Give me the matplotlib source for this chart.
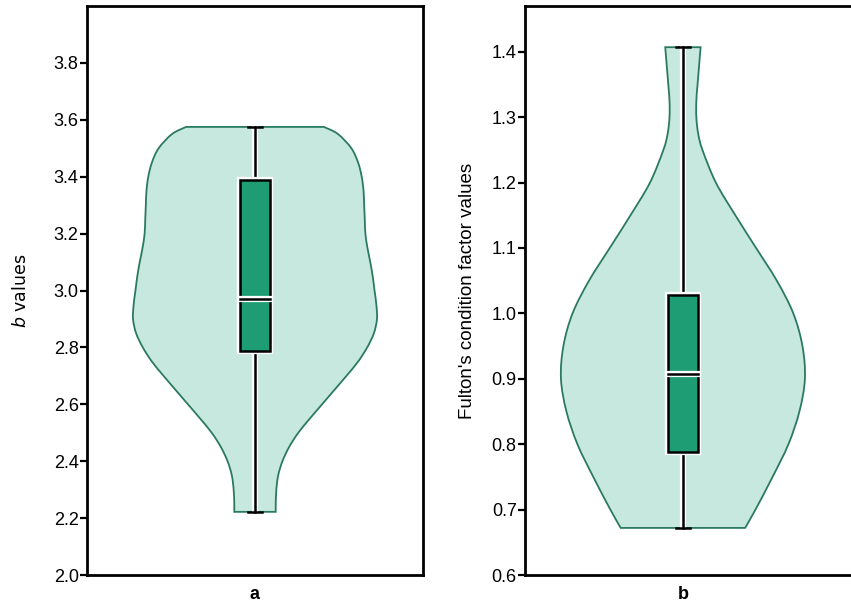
import numpy as np
import matplotlib
matplotlib.use("Agg")
import matplotlib.pyplot as plt
import matplotlib.patheffects as pe
from matplotlib.path import Path
from matplotlib.patches import PathPatch

# panel a : b values
niveles_a = [2.222, 2.25, 2.3, 2.35, 2.4, 2.45, 2.5, 2.55, 2.6, 2.65, 2.7, 2.75, 2.8, 2.85,
             2.9, 2.95, 3.0, 3.05, 3.1, 3.15, 3.2, 3.25, 3.3, 3.35, 3.4, 3.45, 3.5, 3.55, 3.575]
densidad_a = [0.17, 0.17, 0.175, 0.19, 0.225, 0.28, 0.355, 0.45, 0.55, 0.65, 0.75, 0.845, 0.92, 0.975,
              1.0, 0.995, 0.98, 0.965, 0.945, 0.922, 0.905, 0.90, 0.895, 0.89, 0.875, 0.845, 0.79, 0.68, 0.565]
caja_a = [2.222, 2.787, 2.971, 3.390, 3.575]   # min, q1, mediana, q3, max

# panel b : Fulton's K
niveles_b = [0.672, 0.7, 0.75, 0.8, 0.85, 0.9, 0.95, 1.0, 1.05, 1.1, 1.15, 1.2, 1.25,
             1.275, 1.3, 1.325, 1.35, 1.407]
densidad_b = [0.51, 0.595, 0.735, 0.865, 0.955, 1.0, 0.98, 0.905, 0.77, 0.60, 0.43, 0.27, 0.16,
              0.125, 0.11, 0.11, 0.12, 0.145]
caja_b = [0.672, 0.788, 0.907, 1.028, 1.407]

col_violin = '#c7e8df'
col_borde = '#2a7a60'
col_caja = '#1e9d74'

fig = plt.figure(figsize=(8.51, 6.06), dpi=100)


def curva(px, py):
    # Catmull-Rom -> bezier, solo para dibujar suave entre los puntos leidos
    n = len(px)
    verts = []
    for i in range(n - 1):
        i0 = max(i - 1, 0)
        i3 = min(i + 2, n - 1)
        c1 = (px[i] + (px[i+1] - px[i0]) / 6.0, py[i] + (py[i+1] - py[i0]) / 6.0)
        c2 = (px[i+1] - (px[i3] - px[i]) / 6.0, py[i+1] - (py[i3] - py[i]) / 6.0)
        verts += [c1, c2, (px[i+1], py[i+1])]
    return verts


def violin(ax, niveles, densidad, centro):
    y = np.array(niveles)
    w = np.array(densidad) * 0.363
    izq = curva(centro - w, y)
    der = curva((centro + w)[::-1], y[::-1])
    verts = [(centro - w[0], y[0])] + izq + [((centro + w)[-1], y[-1])] + der + [(centro - w[0], y[0])]
    codes = [Path.MOVETO] + [Path.CURVE4] * len(izq) + [Path.LINETO] + [Path.CURVE4] * len(der) + [Path.CLOSEPOLY]
    p = PathPatch(Path(verts, codes), facecolor=col_violin, edgecolor=col_borde, lw=1.3, zorder=1)
    ax.add_patch(p)


def panel(rect, niveles, densidad, caja, etiqueta, ylim, yticks, centro):
    ax = fig.add_axes(rect)
    violin(ax, niveles, densidad, centro)
    halo = [pe.withStroke(linewidth=4.5, foreground='white')]
    # bigote y tapas
    ax.plot([centro, centro], [caja[0], caja[4]], color='black', lw=1.8, zorder=3, path_effects=halo)
    for v in (caja[0], caja[4]):
        ax.plot([centro - 0.022, centro + 0.022], [v, v], color='black', lw=1.8, zorder=3)
    # caja
    ancho = 0.045
    r = plt.Rectangle((centro - ancho, caja[1]), 2*ancho, caja[3]-caja[1], facecolor=col_caja,
                      edgecolor='black', lw=1.8, zorder=4, path_effects=halo)
    ax.add_patch(r)
    ax.plot([centro - ancho, centro + ancho], [caja[2], caja[2]], color='black', lw=1.8, zorder=5,
            path_effects=halo)
    ax.set_xlim(-0.5, 0.5)
    ax.set_ylim(*ylim)
    ax.set_yticks(yticks)
    ax.set_yticklabels(['%.1f' % t for t in yticks], fontsize=13, family='Liberation Sans')
    ax.set_xticks([centro])
    ax.set_xticklabels([etiqueta], fontsize=13, fontweight='bold', family='Liberation Sans')
    ax.tick_params(axis='x', length=0, pad=8)
    ax.tick_params(axis='y', length=5, width=1.6, pad=1)
    for s in ax.spines.values():
        s.set_linewidth(2.0)
    return ax


ax1 = panel([87/851, 1 - 575/606, (423-87)/851, (575-6)/606], niveles_a, densidad_a, caja_a, 'a',
            (2.0, 4.0), [2.0, 2.2, 2.4, 2.6, 2.8, 3.0, 3.2, 3.4, 3.6, 3.8], 0.0)
ax1.set_ylabel(r'$\it{b}$ values', fontsize=12.5, labelpad=17)

ax2 = panel([525/851, 1 - 575/606, (861-525)/851, (575-6)/606], niveles_b, densidad_b, caja_b, 'b',
            (0.6, 1.47), [0.6, 0.7, 0.8, 0.9, 1.0, 1.1, 1.2, 1.3, 1.4], -0.03)
ax2.set_ylabel("Fulton's condition factor values", fontsize=13.5, family='Liberation Sans', labelpad=11)

plt.savefig('out.png', dpi=100)
